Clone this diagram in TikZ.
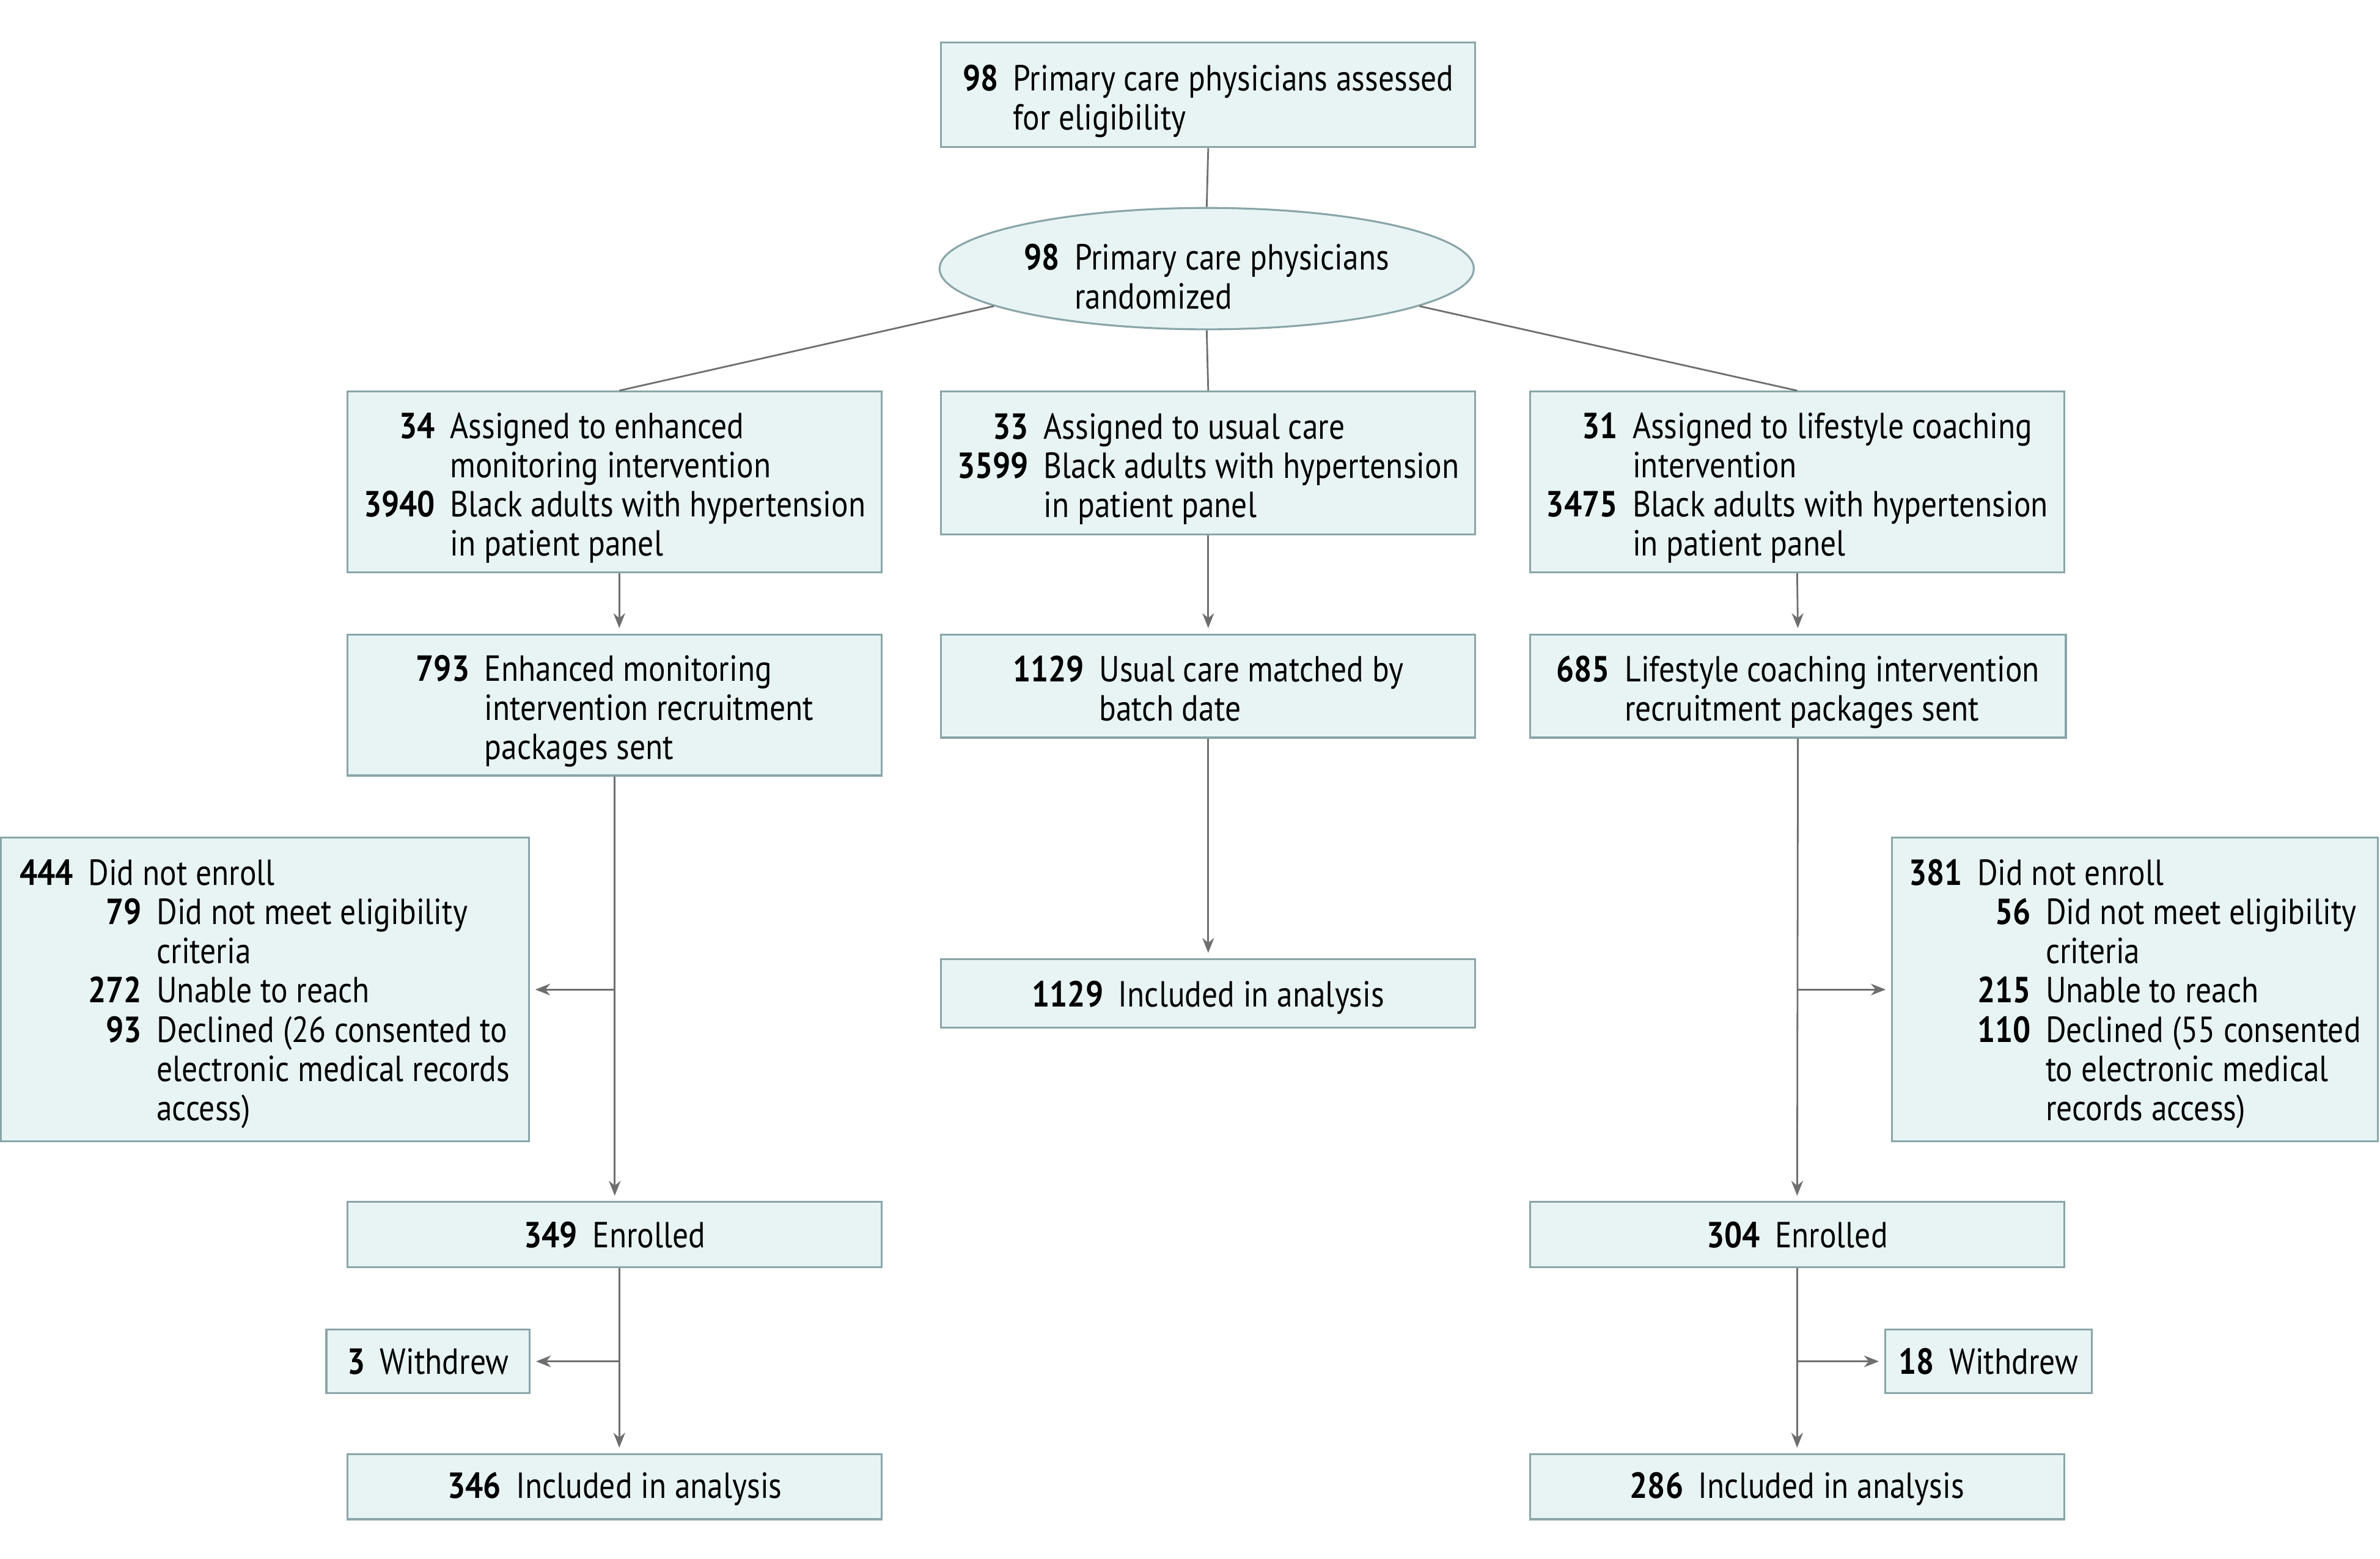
\documentclass[tikz,border=0pt]{standalone}
\usepackage{fontspec}
\setmainfont[FakeStretch=0.867]{PT Sans}
\usetikzlibrary{shapes.geometric,arrows.meta}
\definecolor{boxfill}{HTML}{E8F4F4}
\definecolor{boxline}{HTML}{8AA5A8}
\definecolor{conn}{HTML}{6E6E6E}
\newcommand{\nb}[1]{\textbf{#1}}
\newcommand{\low}[2]{\raisebox{-#1}[\height][\depth]{#2}}
\newcommand{\tb}[1]{\low{3.5pt}{\begin{tabular}{@{}r@{\hspace{7pt}}l@{}}#1\end{tabular}}}
\newcommand{\tbb}[1]{\low{2.5pt}{\begin{tabular}{@{}r@{\hspace{7pt}}r@{\hspace{7pt}}l@{}}#1\end{tabular}}}
\tikzset{
  bx/.style 2 args={draw=boxline, fill=boxfill, line width=0.9pt, inner sep=0pt,
    minimum width=#1*0.025cm, minimum height=#2*0.025cm, align=center,
    font=\fontsize{17}{18.4}\selectfont},
  ell/.style 2 args={bx={#1}{#2}, ellipse},
  ln/.style={draw=conn, line width=0.8pt},
  arr/.style={ln, -{Stealth[length=7pt,width=5.5pt]}, shorten >=2.5pt},
}
\begin{document}
\begin{tikzpicture}[x=0.025cm,y=-0.025cm]
\useasboundingbox (0,0) rectangle (1568,1027);
\node[bx={352}{69}] (top) at (796,62.5) {\tb{\nb{98} & Primary care physicians assessed\\ & for eligibility}};
\node[ell={352}{80}] (rand) at (795,177) {\low{2.5pt}{\tb{\nb{98} & Primary care physicians\\ & randomized}}};
\node[bx={352}{119}] (la) at (405,317.5) {\tb{\nb{34} & Assigned to enhanced\\ & monitoring intervention\\ \nb{3940} & Black adults with hypertension\\ & in patient panel}};
\node[bx={352}{94}] (ma) at (796,305) {\tb{\nb{33} & Assigned to usual care\\ \nb{3599} & Black adults with hypertension\\ & in patient panel}};
\node[bx={352}{119}] (ra) at (1184,317.5) {\tb{\nb{31} & Assigned to lifestyle coaching\\ & intervention\\ \nb{3475} & Black adults with hypertension\\ & in patient panel}};
\node[bx={352}{93}] (lp) at (405,464.5) {\tb{\nb{793} & Enhanced monitoring\\ & intervention recruitment\\ & packages sent}};
\node[bx={352}{68}] (mm) at (796,452) {\tb{\nb{1129} & Usual care matched by\\ & batch date}};
\node[bx={353}{68}] (rp) at (1184.5,452) {\tb{\nb{685} & Lifestyle coaching intervention\\ & recruitment packages sent}};
\node[bx={348}{200}] (ld) at (174.5,652) {\tbb{\nb{444} & \multicolumn{2}{@{}l@{}}{Did not enroll}\\ & \nb{79} & Did not meet eligibility\\ & & criteria\\ & \nb{272} & Unable to reach\\ & \nb{93} & Declined (26 consented to\\ & & electronic medical records\\ & & access)}};
\node[bx={352}{45}] (mi) at (796,654.5) {\low{2pt}{\nb{1129}\hspace{7pt}Included in analysis}};
\node[bx={320}{200}] (rd) at (1406.5,652) {\tbb{\nb{381} & \multicolumn{2}{@{}l@{}}{Did not enroll}\\ & \nb{56} & Did not meet eligibility\\ & & criteria\\ & \nb{215} & Unable to reach\\ & \nb{110} & Declined (55 consented\\ & & to electronic medical\\ & & records access)}};
\node[bx={352}{43}] (le) at (405,813.5) {\nb{349}\hspace{7pt}Enrolled};
\node[bx={352}{43}] (re) at (1184,813.5) {\nb{304}\hspace{7pt}Enrolled};
\node[bx={134}{42}] (lw) at (282,897) {\nb{3}\hspace{7pt}Withdrew};
\node[bx={136}{42}] (rw) at (1310,897) {\nb{18}\hspace{7pt}Withdrew};
\node[bx={352}{43}] (li) at (405,979.5) {\low{1.2pt}{\nb{346}\hspace{7pt}Included in analysis}};
\node[bx={352}{43}] (ri) at (1184,979.5) {\low{1.2pt}{\nb{286}\hspace{7pt}Included in analysis}};
% connectors
\draw[ln] (top.south) -- (rand.north);
\draw[ln] (rand.south) -- (ma.north);
\draw[ln] (rand.190) -- ([xshift=3*0.025cm]la.north);
\draw[ln] (rand.350) -- (ra.north);
\draw[arr] ([xshift=3*0.025cm]la.south) -- ([xshift=3*0.025cm]lp.north);
\draw[arr] (ma.south) -- (mm.north);
\draw[arr] (ra.south) -- (rp.north);
\draw[arr] (mm.south) -- (mi.north);
\draw[arr] (lp.south) -- (le.north);
\draw[arr] (rp.south) -- (re.north);
\draw[arr] (lp.south |- ld.east) -- (ld.east);
\draw[arr] (rp.south |- rd.west) -- (rd.west);
\draw[arr] ([xshift=3*0.025cm]le.south) -- ([xshift=3*0.025cm]li.north);
\draw[arr] (re.south) -- (ri.north);
\draw[arr] ([xshift=3*0.025cm]le.south |- lw.east) -- (lw.east);
\draw[arr] (re.south |- rw.west) -- (rw.west);
\end{tikzpicture}
\end{document}
